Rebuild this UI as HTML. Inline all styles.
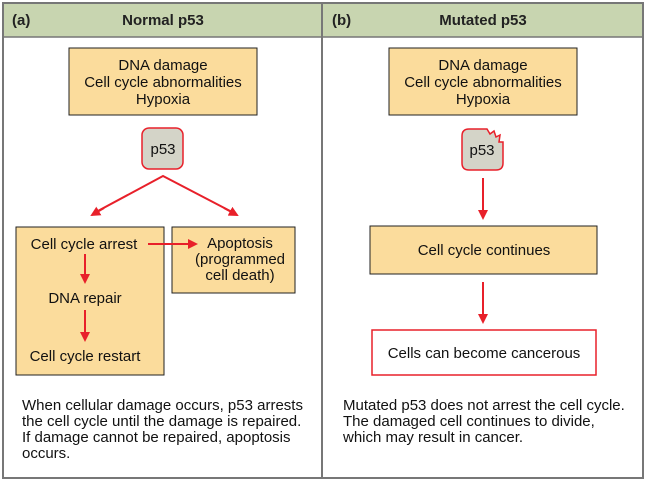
<!DOCTYPE html>
<html><head><meta charset="utf-8"><style>
body{margin:0;background:#fff;}
svg{display:block;font-family:"Liberation Sans",sans-serif;}
</style></head><body>
<svg width="646" height="482" viewBox="0 0 646 482">
<defs><marker id="ah" viewBox="0 0 10 10" refX="8" refY="5" markerWidth="5" markerHeight="5" orient="auto"><path d="M0,0 L10,5 L0,10 z" fill="#e8202a"/></marker></defs>
<rect x="3" y="3" width="640" height="475" fill="#fff" stroke="#777" stroke-width="2"/>
<rect x="4" y="4" width="638" height="33" fill="#c8d5b0"/>
<line x1="3" y1="37" x2="643" y2="37" stroke="#777" stroke-width="1.5"/>
<line x1="322" y1="3" x2="322" y2="478" stroke="#777" stroke-width="2"/>
<g font-weight="bold" font-size="15" fill="#222">
<text x="12" y="25">(a)</text>
<text x="163" y="25" text-anchor="middle">Normal p53</text>
<text x="332" y="25">(b)</text>
<text x="483" y="25" text-anchor="middle">Mutated p53</text>
</g>
<g font-size="15" fill="#111" text-anchor="middle">
<rect x="69" y="48" width="188" height="67" fill="#fbdc9c" stroke="#222"/>
<text x="163" y="70"><tspan x="163">DNA damage</tspan><tspan x="163" dy="17">Cell cycle abnormalities</tspan><tspan x="163" dy="17">Hypoxia</tspan></text>
<rect x="142" y="128" width="41" height="41" rx="7" fill="#d4d4c8" stroke="#e8202a" stroke-width="1.5"/>
<text x="163" y="154">p53</text>
<polyline points="96,212 163,176 232,212" fill="none" stroke="#e8202a" stroke-width="2"/>
<line x1="104" y1="208" x2="92" y2="215" stroke="#e8202a" stroke-width="2" marker-end="url(#ah)"/>
<line x1="224" y1="208" x2="237" y2="215" stroke="#e8202a" stroke-width="2" marker-end="url(#ah)"/>
<rect x="16" y="227" width="148" height="148" fill="#fbdc9c" stroke="#222"/>
<text x="84" y="249">Cell cycle arrest</text>
<line x1="85" y1="254" x2="85" y2="282" stroke="#e8202a" stroke-width="2" marker-end="url(#ah)"/>
<text x="85" y="303">DNA repair</text>
<line x1="85" y1="310" x2="85" y2="340" stroke="#e8202a" stroke-width="2" marker-end="url(#ah)"/>
<text x="85" y="361">Cell cycle restart</text>
<rect x="172" y="227" width="123" height="66" fill="#fbdc9c" stroke="#222"/>
<text x="240" y="248"><tspan x="240">Apoptosis</tspan><tspan x="240" dy="16">(programmed</tspan><tspan x="240" dy="16">cell death)</tspan></text>
<line x1="148" y1="244" x2="196" y2="244" stroke="#e8202a" stroke-width="2" marker-end="url(#ah)"/>
<rect x="389" y="48" width="188" height="67" fill="#fbdc9c" stroke="#222"/>
<text x="483" y="70"><tspan x="483">DNA damage</tspan><tspan x="483" dy="17">Cell cycle abnormalities</tspan><tspan x="483" dy="17">Hypoxia</tspan></text>
<path d="M469,129 L487,129 L490,134 L494,131 L496,137 L500,135 L499,142 L503,142 L503,163 Q503,170 496,170 L469,170 Q462,170 462,163 L462,136 Q462,129 469,129 Z" fill="#d4d4c8" stroke="#e8202a" stroke-width="1.5"/>
<text x="482" y="155">p53</text>
<line x1="483" y1="178" x2="483" y2="218" stroke="#e8202a" stroke-width="2" marker-end="url(#ah)"/>
<rect x="370" y="226" width="227" height="48" fill="#fbdc9c" stroke="#222"/>
<text x="484" y="255">Cell cycle continues</text>
<line x1="483" y1="282" x2="483" y2="322" stroke="#e8202a" stroke-width="2" marker-end="url(#ah)"/>
<rect x="372" y="330" width="224" height="45" fill="#fff" stroke="#e8202a" stroke-width="1.5"/>
<text x="484" y="358">Cells can become cancerous</text>
</g>
<g font-size="15" fill="#111">
<text x="22" y="410"><tspan x="22">When cellular damage occurs, p53 arrests</tspan><tspan x="22" dy="16">the cell cycle until the damage is repaired.</tspan><tspan x="22" dy="16">If damage cannot be repaired, apoptosis</tspan><tspan x="22" dy="16">occurs.</tspan></text>
<text x="343" y="410"><tspan x="343">Mutated p53 does not arrest the cell cycle.</tspan><tspan x="343" dy="16">The damaged cell continues to divide,</tspan><tspan x="343" dy="16">which may result in cancer.</tspan></text>
</g>
</svg>
</body></html>
